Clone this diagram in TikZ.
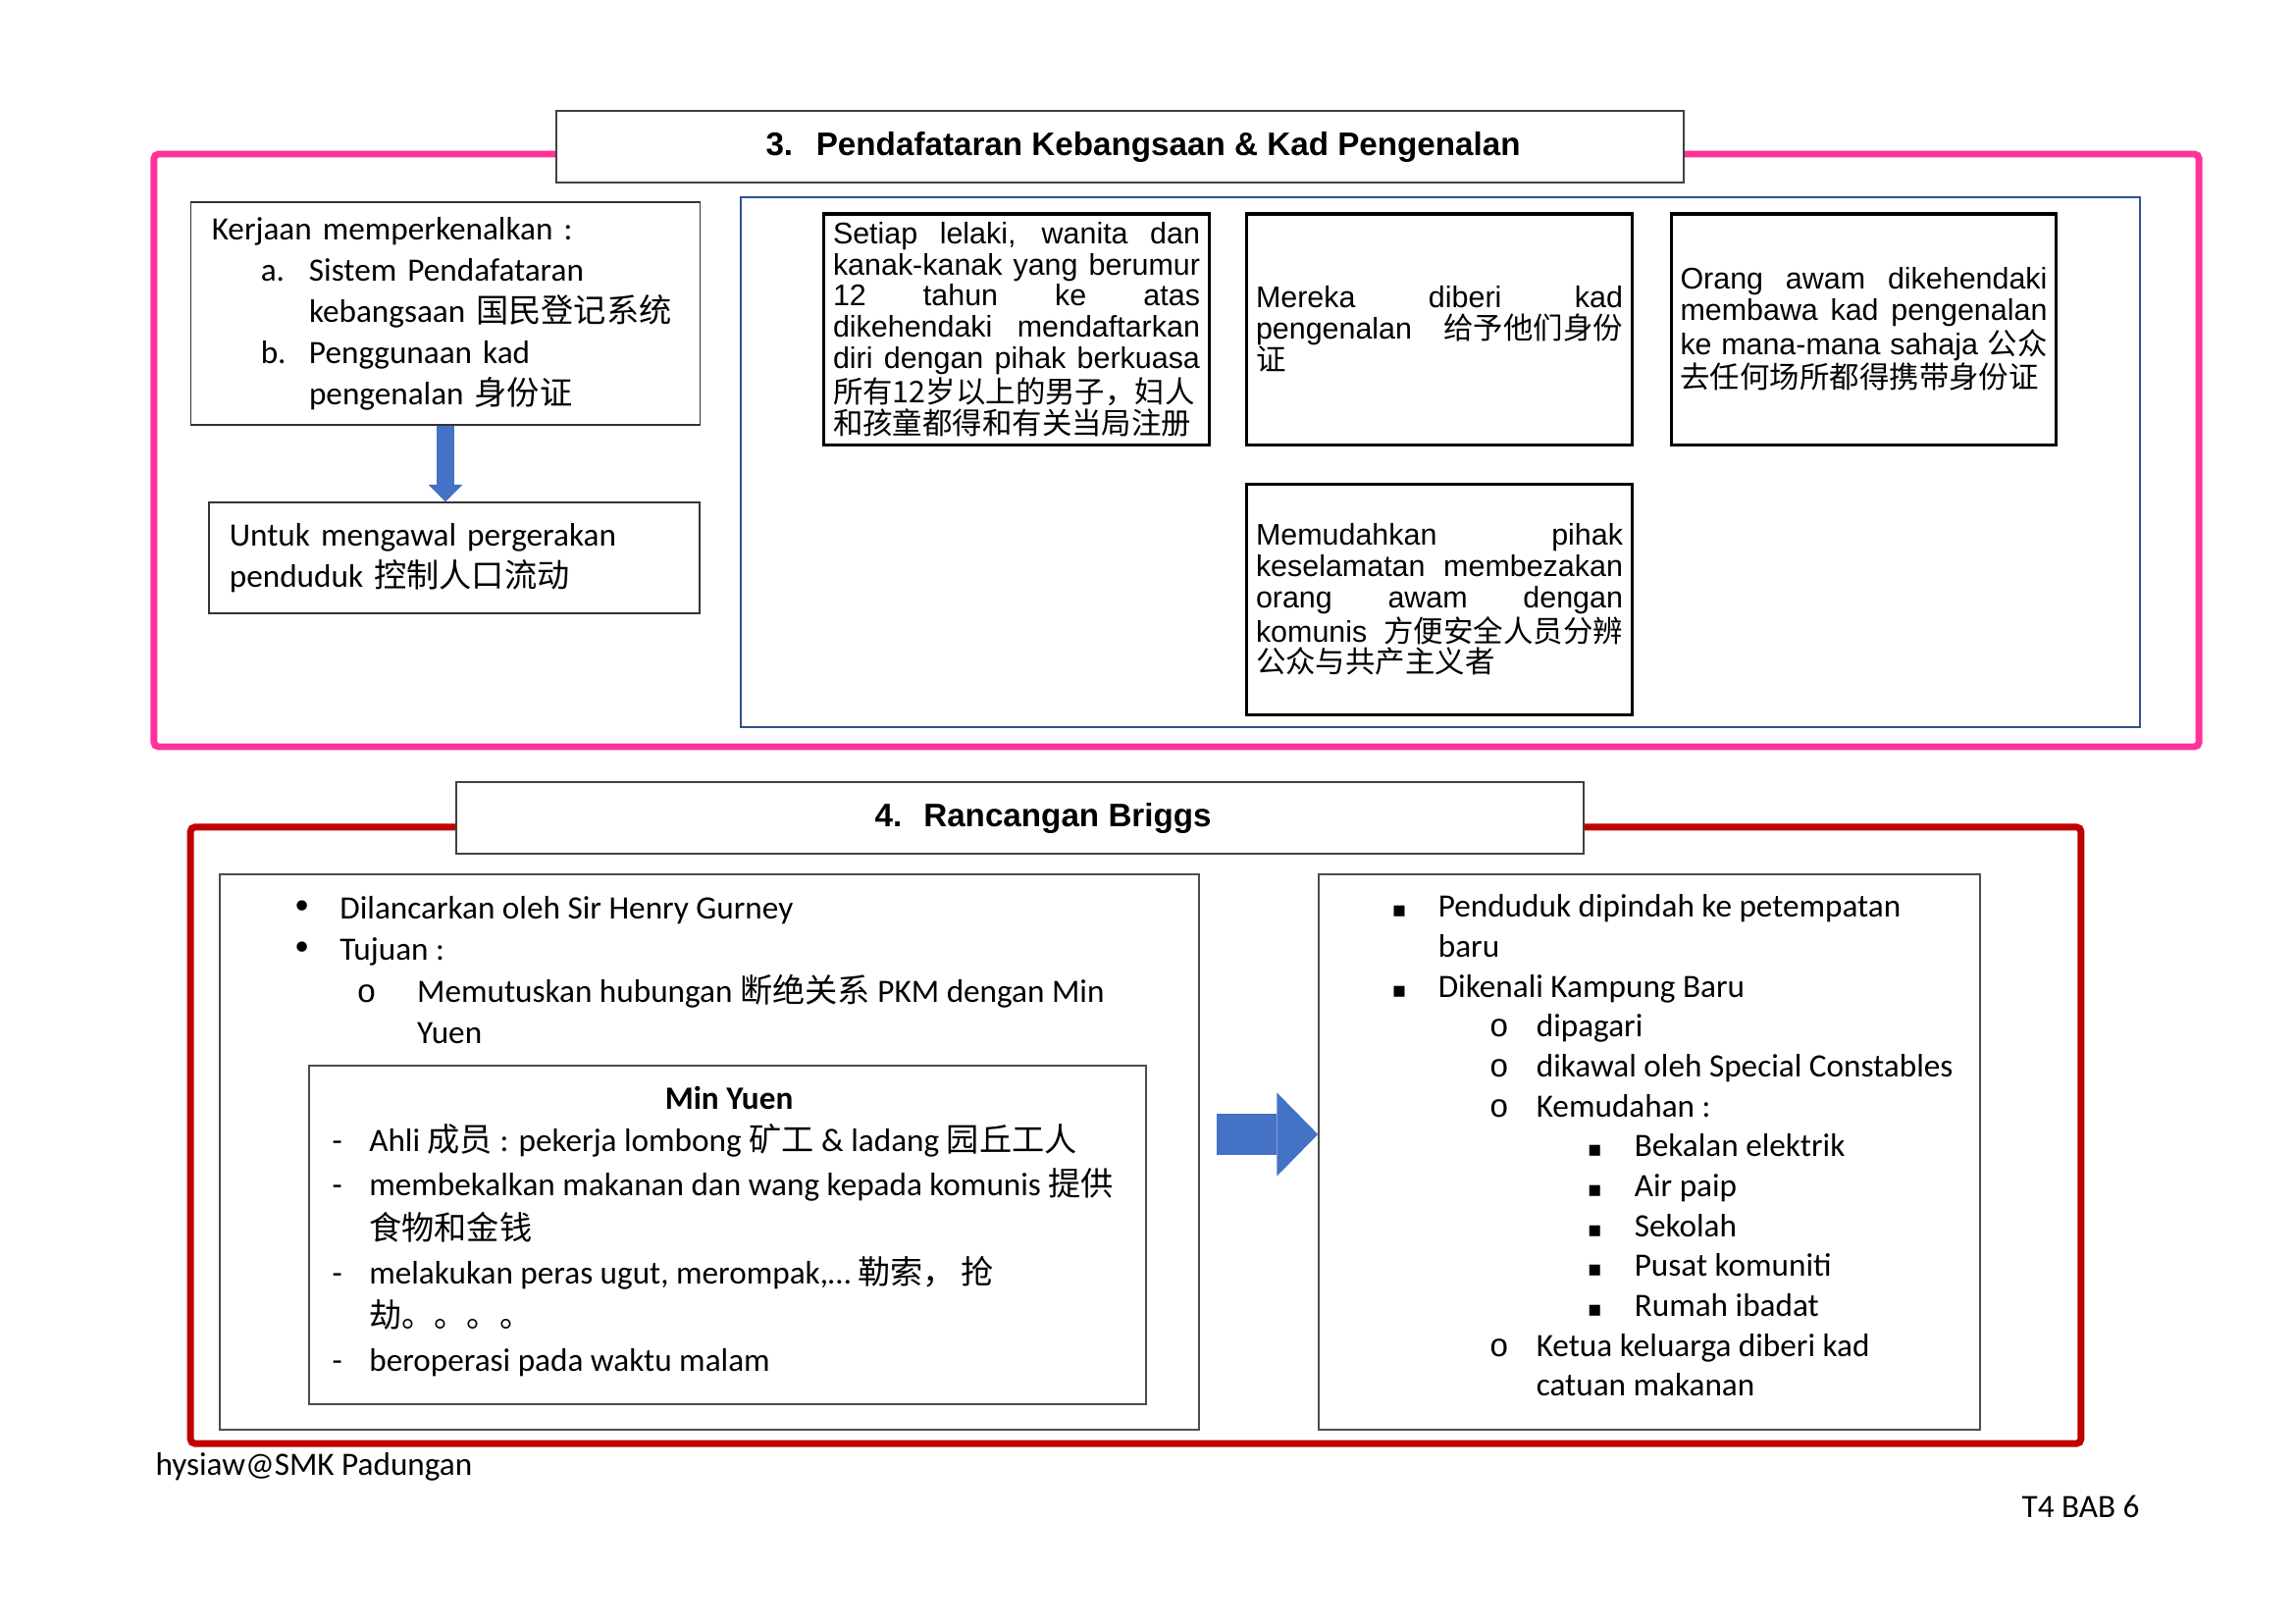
\documentclass[tikz,border=0pt]{standalone}
\usepackage{fontspec}
\setmainfont{Carlito}
\newfontfamily\arialf{Liberation Sans}
\newfontfamily\cjk{Noto Sans CJK SC}
\newfontfamily\dejavuf{DejaVu Sans}
\newfontfamily\courierf{Liberation Mono}
\usetikzlibrary{arrows.meta, positioning}
\definecolor{secpink}{RGB}{255,51,153}
\definecolor{secred}{RGB}{192,0,0}
\definecolor{arrowblue}{RGB}{68,114,196}
\definecolor{framenavy}{RGB}{47,82,143}
\newcommand{\dotblt}{{\dejavuf\fontsize{13}{13}\selectfont •}}
\newcommand{\ringblt}{{\courierf o}}
\newcommand{\sqblt}{{\dejavuf\fontsize{8}{8}\selectfont ▪}}

\begin{document}
\begin{tikzpicture}[
    x=0.127mm, y=-0.127mm,
    frame/.style={draw, line width=2.5pt, rounded corners=0.6mm},
    titlebox/.style={draw=black!75, line width=0.6pt, fill=white, minimum width=145.9mm, minimum height=9.27mm, font=\arialf\bfseries\fontsize{12}{14}\selectfont},
    notebox/.style={draw=black!80, line width=0.5pt, inner xsep=2.67mm, align=left, font=\fontsize{12}{15.2}\selectfont},
    factbox/.style={draw, line width=1.1pt, minimum width=49.8mm, minimum height=29.85mm, text width=47.5mm, inner xsep=1.15mm, inner ysep=0.5mm, align=justify, font=\arialf\fontsize{11}{11.5}\selectfont,
        execute at begin node={\tolerance=10000\relax\hyphenpenalty=10000\relax\exhyphenpenalty=10000\relax}},
    panel/.style={draw=black!70, line width=0.6pt},
    listtext/.style={inner sep=0pt, align=left, anchor=north west, execute at begin node={\rule{0pt}{11pt}}},
    flowarrow/.style={draw=arrowblue},
]
    \useasboundingbox (0,0) rectangle (2339,1654);

    % Section 3: Pendaftaran Kebangsaan
    \node[frame, draw=secpink, minimum width=264.7mm, minimum height=76.7mm] (sec3) at (1199,459) {};
    \node[titlebox] (t3) at (1141.5,149.5) {\hspace*{6mm}3.\hspace{3mm}Pendafataran Kebangsaan \& Kad Pengenalan};

    \node[notebox, minimum width=65.8mm, minimum height=28.83mm, text width=60.5mm] (kenal) at (454,319.5) {Kerjaan memperkenalkan :\\
        \hspace*{6.35mm}\makebox[6.25mm][l]{a.}Sistem Pendafataran\\
        \hspace*{12.6mm}kebangsaan {\cjk 国民登记系统}\\
        \hspace*{6.35mm}\makebox[6.25mm][l]{b.}Penggunaan kad\\
        \hspace*{12.6mm}pengenalan {\cjk 身份证}};
    \node[notebox, minimum width=63.5mm, minimum height=14.35mm, text width=58.2mm] (kawal) at (463,568.5) {Untuk mengawal pergerakan\\
        penduduk {\cjk 控制人口流动}};
    \draw[flowarrow, line width=2.2mm, -{Triangle[length=2.2mm, width=4.4mm, line width=0pt]}] (kenal.south) -- (kenal.south |- kawal.north);

    \node[draw=framenavy, line width=0.6pt, minimum width=181.1mm, minimum height=68.6mm] (fakta) at (1468,471) {};
    \node[factbox] (daftar) at (1036,335.5) {Setiap lelaki, wanita dan\linebreak
        kanak-kanak yang berumur\linebreak
        12 tahun ke atas\linebreak
        dikehendaki mendaftarkan\linebreak
        diri dengan pihak berkuasa\linebreak
        {\cjk 所有12岁以上的男子，妇人}\linebreak
        {\cjk 和孩童都得和有关当局注册}};
    \node[factbox] (diberi) at (1467,335.5) {Mereka diberi kad\linebreak
        pengenalan {\cjk 给予他们身份}\linebreak
        {\cjk 证}};
    \node[factbox] (bawa) at (1899.5,335.5) {Orang awam dikehendaki\linebreak
        membawa kad pengenalan\linebreak
        ke mana-mana sahaja {\cjk 公众}\linebreak
        {\cjk 去任何场所都得携带身份证}};
    \node[factbox] (beza) at (1467,611) {Memudahkan pihak\linebreak
        keselamatan membezakan\linebreak
        orang awam dengan\linebreak
        komunis {\cjk 方便安全人员分辨}\linebreak
        {\cjk 公众与共产主义者}};

    % Section 4: Rancangan Briggs
    \node[frame, draw=secred, minimum width=244.7mm, minimum height=79.8mm] (sec4) at (1157.5,1157) {};
    \node[titlebox] (t4) at (1039.5,833.5) {\hspace*{6mm}4.\hspace{2.8mm}Rancangan Briggs};

    \node[panel, minimum width=126.7mm, minimum height=71.9mm] (briggs) at (723,1174) {};
    \node[listtext, font=\fontsize{12}{15.3}\selectfont] (tujuan) at (297,913) {\makebox[6.2mm][l]{\dotblt}Dilancarkan oleh Sir Henry Gurney\\
        \makebox[6.2mm][l]{\dotblt}Tujuan :\\
        \hspace*{8.4mm}\makebox[7.8mm][l]{\ringblt}Memutuskan hubungan {\cjk 断绝关系} PKM dengan Min\\
        \hspace*{16.2mm}Yuen};

    \node[panel, minimum width=108.3mm, minimum height=43.8mm] (minyuen) at (741.5,1258.5) {};
    \node[font=\bfseries\fontsize{12}{14}\selectfont] (mytitle) at (743,1119) {Min Yuen};
    \node[listtext, font=\fontsize{12}{16.2}\selectfont] (mylist) at (338,1145) {\makebox[4.8mm][l]{-}Ahli {\cjk 成员} : pekerja lombong {\cjk 矿工} \& ladang {\cjk 园丘工人}\\
        \makebox[4.8mm][l]{-}membekalkan makanan dan wang kepada komunis {\cjk 提供}\\
        \hspace*{4.8mm}{\cjk 食物和金钱}\\
        \makebox[4.8mm][l]{-}melakukan peras ugut, merompak,… {\cjk 勒索，}\,{\cjk 抢}\\
        \hspace*{4.8mm}{\cjk 劫。。。。}\\
        \makebox[4.8mm][l]{-}beroperasi pada waktu malam};

    \node[panel, minimum width=85.6mm, minimum height=71.9mm] (kbaru) at (1681,1174) {};
    \node[listtext, font=\fontsize{12}{14.7}\selectfont] (kblist) at (1418,911) {\makebox[6mm][l]{\sqblt}Penduduk dipindah ke petempatan\\
        \hspace*{6mm}baru\\
        \makebox[6mm][l]{\sqblt}Dikenali Kampung Baru\\
        \hspace*{12.6mm}\makebox[6.1mm][l]{\ringblt}dipagari\\
        \hspace*{12.6mm}\makebox[6.1mm][l]{\ringblt}dikawal oleh Special Constables\\
        \hspace*{12.6mm}\makebox[6.1mm][l]{\ringblt}Kemudahan :\\
        \hspace*{25.3mm}\makebox[6.1mm][l]{\sqblt}Bekalan elektrik\\
        \hspace*{25.3mm}\makebox[6.1mm][l]{\sqblt}Air paip\\
        \hspace*{25.3mm}\makebox[6.1mm][l]{\sqblt}Sekolah\\
        \hspace*{25.3mm}\makebox[6.1mm][l]{\sqblt}Pusat komuniti\\
        \hspace*{25.3mm}\makebox[6.1mm][l]{\sqblt}Rumah ibadat\\
        \hspace*{12.6mm}\makebox[6.1mm][l]{\ringblt}Ketua keluarga diberi kad\\
        \hspace*{18.7mm}catuan makanan};

    \coordinate (arrowtail) at (1240,1156);
    \draw[flowarrow, line width=5.3mm, -{Triangle[length=5.3mm, width=10.8mm, line width=0pt]}] (arrowtail) -- (arrowtail -| kbaru.west);

    % footer
    \node[anchor=west, inner sep=0pt, font=\fontsize{12}{14}\selectfont] (credit) at (158,1495) {hysiaw@SMK Padungan};
    \node[anchor=east, inner sep=0pt, font=\fontsize{12}{14}\selectfont] (bab) at (2181,1535) {T4 BAB 6};
\end{tikzpicture}
\end{document}
